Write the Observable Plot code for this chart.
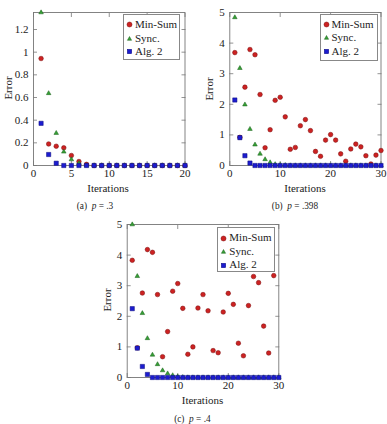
<!DOCTYPE html>
<html>
<head>
<meta charset="utf-8">
<script src="https://cdn.jsdelivr.net/npm/d3@7"></script>
<script src="https://cdn.jsdelivr.net/npm/@observablehq/plot@0.6"></script>
<style>
  html, body { margin: 0; padding: 0; background: #fff; }
  #root { position: relative; width: 387px; height: 424px; font-family: "Liberation Serif", "DejaVu Serif", serif; color: #222; overflow: hidden; }
  .panel { position: absolute; }
  .panel svg { overflow: visible; font-family: "Liberation Serif", "DejaVu Serif", serif !important; }
  .panel svg text { font-family: "Liberation Serif", "DejaVu Serif", serif; }
  .lbl { position: absolute; font-size: 11px; white-space: nowrap; transform: translate(-50%, -50%); }
  .ylbl { transform: translate(-50%, -50%) rotate(-90deg); }
  .cap { position: absolute; font-size: 9.3px; white-space: nowrap; transform: translate(-50%, -50%); }
  .legend { position: absolute; background: #fff; border: 1px solid #888; box-sizing: border-box; font-size: 11px; padding-top: 3px; }
  .legend .row { height: 13.5px; line-height: 13.5px; display: flex; align-items: center; }
  .legend svg { width: 9px; height: 9px; margin-left: 1px; margin-right: 1px; flex: none; }
</style>
</head>
<body>
<div id="root"></div>
<script>
// ---------- data ----------
const seriesNames = ["Min-Sum", "Sync.", "Alg. 2"];

// (a) p = .3  (iterations 1..20)
const minSumA = [0.944, 0.19, 0.17, 0.156, 0.088, 0.035, 0.01, 0, 0, 0, 0, 0, 0, 0, 0, 0, 0, 0, 0, 0];
const syncA   = [1.35, 0.637, 0.286, 0.121, 0.053, 0.02, 0, 0, 0, 0, 0, 0, 0, 0, 0, 0, 0, 0, 0, 0];
const alg2A   = [0.372, 0.097, 0.02, 0, 0, 0, 0, 0, 0, 0, 0, 0, 0, 0, 0, 0, 0, 0, 0, 0];

// (b) p = .398  (iterations 1..30)
const minSumB = [3.69, 0.92, 2.56, 3.79, 3.62, 2.32, 0.58, 1.17, 2.13, 2.23, 1.59, 0.53, 0.59, 1.30, 1.50,
                 1.14, 0.46, 0.30, 0.83, 1.01, 0.83, 0.38, 0.14, 0.54, 0.70, 0.61, 0.32, 0.05, 0.34, 0.49];
const syncB   = [4.84, 3.18, 1.99, 1.19, 0.68, 0.38, 0.20, 0.10, 0.04, 0.02, 0.01, 0, 0, 0, 0,
                 0, 0, 0, 0, 0, 0, 0, 0, 0, 0, 0, 0, 0, 0, 0];
const alg2B   = [2.14, 0.91, 0.32, 0.08, 0, 0, 0, 0, 0, 0, 0, 0, 0, 0, 0,
                 0, 0, 0, 0, 0, 0, 0, 0, 0, 0, 0, 0, 0, 0, 0];

// (c) p = .4
const minSumC = [3.83, 0.97, 2.76, 4.18, 4.09, 2.71, 0.68, 1.50, 2.82, 3.07, 2.26, 0.76, 1.00, 2.27, 2.71,
                 2.18, 0.88, 0.81, 2.14, 2.75, 2.39, 1.12, 0.71, 2.35, 3.30, 3.10, 1.68, 0.80, 3.33];
const syncC   = [5.0, 3.31, 2.10, 1.28, 0.74, 0.43, 0.23, 0.13, 0.07, 0.03, 0.01, 0, 0, 0, 0,
                 0, 0, 0, 0, 0, 0, 0, 0, 0, 0, 0, 0, 0, 0, 0];
const alg2C   = [2.25, 0.96, 0.36, 0.10, 0, 0, 0, 0, 0, 0, 0, 0, 0, 0, 0,
                 0, 0, 0, 0, 0, 0, 0, 0, 0, 0, 0, 0, 0, 0, 0];

const xTicksA = [0, 5, 10, 15, 20];
const yTicksA = [0, 0.2, 0.4, 0.6, 0.8, 1, 1.2];
const xTicks30 = [0, 10, 20, 30];
const yTicks5 = [0, 1, 2, 3, 4, 5];

const captions = [
  {tag: "(a)", p: ".3"},
  {tag: "(b)", p: ".398"},
  {tag: "(c)", p: ".4"}
];

// ---------- styles ----------
const styles = {
  "Min-Sum": {symbol: "circle", r: 2.3, fill: "#cc2222", stroke: "#7a0c0c"},
  "Sync.":   {symbol: "triangle", r: 1.7, fill: "#35a035", stroke: "#1a5e1a"},
  "Alg. 2":  {symbol: "square", r: 2.4, fill: "#1c1cd0", stroke: "#0a0a7a"}
};

const toPts = arr => arr.map((v, i) => ({x: i + 1, y: v}));

function legendSymbol(name) {
  const s = styles[name];
  let shape;
  if (s.symbol === "circle") shape = `<circle cx="4.5" cy="4.5" r="2.5" fill="${s.fill}" stroke="${s.stroke}" stroke-width="0.5"/>`;
  else if (s.symbol === "triangle") shape = `<polygon points="4.5,2.5 6.6,6.3 2.4,6.3" fill="${s.fill}" stroke="${s.stroke}" stroke-width="0.5"/>`;
  else shape = `<rect x="2.3" y="2.3" width="4.4" height="4.4" fill="${s.fill}" stroke="${s.stroke}" stroke-width="0.5"/>`;
  return `<svg viewBox="0 0 9 9">${shape}</svg>`;
}

const root = document.getElementById("root");
const FONT = "'Liberation Serif', 'DejaVu Serif', serif";

function panel(cfg) {
  const div = document.createElement("div");
  div.className = "panel";
  div.style.left = cfg.left + "px";
  div.style.top = cfg.top + "px";
  const axisStroke = "#777";
  const plot = Plot.plot({
    width: cfg.width, height: cfg.height,
    marginTop: cfg.mt, marginBottom: cfg.mb, marginLeft: cfg.ml, marginRight: cfg.mr,
    style: {fontFamily: FONT, fontSize: "11px", color: "#222", background: "transparent", overflow: "visible"},
    x: {domain: cfg.xDomain, axis: null},
    y: {domain: cfg.yDomain, axis: null},
    marks: [
      Plot.frame({stroke: axisStroke, strokeWidth: 0.9}),
      Plot.axisX({ticks: cfg.xTicks, anchor: "bottom", tickSize: 0, tickPadding: 4, label: null, tickFormat: d => String(d), fill: "#222", fontFamily: FONT}),
      Plot.axisX({ticks: cfg.xTicks, anchor: "bottom", tickSize: -4, label: null, tickFormat: () => "", stroke: axisStroke, strokeWidth: 0.8}),
      Plot.axisX({ticks: cfg.xTicks, anchor: "top", tickSize: -4, label: null, tickFormat: () => "", stroke: axisStroke, strokeWidth: 0.8}),
      Plot.axisY({ticks: cfg.yTicks, anchor: "left", tickSize: 0, tickPadding: 5, label: null, tickFormat: d => String(d), fill: "#222", fontFamily: FONT}),
      Plot.axisY({ticks: cfg.yTicks, anchor: "left", tickSize: -4, label: null, tickFormat: () => "", stroke: axisStroke, strokeWidth: 0.8}),
      Plot.axisY({ticks: cfg.yTicks, anchor: "right", tickSize: -4, label: null, tickFormat: () => "", stroke: axisStroke, strokeWidth: 0.8}),
      ...[["Min-Sum", cfg.minSum], ["Sync.", cfg.sync], ["Alg. 2", cfg.alg2]].map(([name, arr]) => {
        const s = styles[name];
        return Plot.dot(toPts(arr), {x: d => d.x, y: d => d.y, symbol: s.symbol, r: s.r, fill: s.fill, stroke: s.stroke, strokeWidth: 0.5});
      })
    ]
  });
  div.appendChild(plot);
  root.appendChild(div);

  // axis labels
  const yl = document.createElement("div");
  yl.className = "lbl ylbl";
  yl.textContent = "Error";
  yl.style.left = cfg.yLabel[0] + "px"; yl.style.top = cfg.yLabel[1] + "px";
  root.appendChild(yl);
  const xl = document.createElement("div");
  xl.className = "lbl";
  xl.textContent = "Iterations";
  xl.style.left = cfg.xLabel[0] + "px"; xl.style.top = cfg.xLabel[1] + "px";
  root.appendChild(xl);

  // legend
  const lg = document.createElement("div");
  lg.className = "legend";
  lg.style.left = cfg.legend[0] + "px"; lg.style.top = cfg.legend[1] + "px";
  lg.style.width = cfg.legend[2] + "px"; lg.style.height = cfg.legend[3] + "px";
  lg.innerHTML = seriesNames.map(n => `<div class="row">${legendSymbol(n)}<span>${n}</span></div>`).join("");
  root.appendChild(lg);

  // caption
  const cap = document.createElement("div");
  cap.className = "cap";
  cap.innerHTML = `${cfg.caption.tag}&nbsp;&nbsp;<i>p</i> = ${cfg.caption.p}`;
  cap.style.left = cfg.capPos[0] + "px"; cap.style.top = cfg.capPos[1] + "px";
  root.appendChild(cap);
}

panel({
  left: 0, top: 0, width: 195, height: 200, mt: 12, mb: 35, ml: 33, mr: 10.5,
  xDomain: [0, 20], yDomain: [0, 1.35], xTicks: xTicksA, yTicks: yTicksA,
  minSum: minSumA, sync: syncA, alg2: alg2A,
  yLabel: [8, 88], xLabel: [108, 188], legend: [123, 14, 57, 46],
  caption: captions[0], capPos: [95, 206]
});
panel({
  left: 195, top: 0, width: 192, height: 200, mt: 12, mb: 35, ml: 34.3, mr: 6.5,
  xDomain: [0, 30], yDomain: [0, 5], xTicks: xTicks30, yTicks: yTicks5,
  minSum: minSumB, sync: syncB, alg2: alg2B,
  yLabel: [209, 89], xLabel: [305, 188], legend: [319.5, 13.5, 58, 47],
  caption: captions[1], capPos: [295, 206]
});
panel({
  left: 95, top: 212, width: 195, height: 200, mt: 12, mb: 35, ml: 31.7, mr: 11.7,
  xDomain: [0, 30], yDomain: [0, 5], xTicks: xTicks30, yTicks: yTicks5,
  minSum: minSumC, sync: syncC, alg2: alg2C,
  yLabel: [107, 300], xLabel: [202.5, 400], legend: [217.3, 227.3, 58, 45],
  caption: captions[2], capPos: [192.4, 418.5]
});
</script>
</body>
</html>
